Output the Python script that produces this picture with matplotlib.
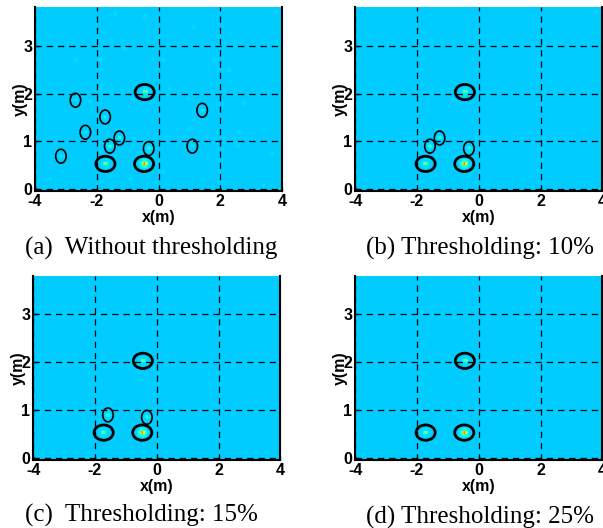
import matplotlib
matplotlib.use("Agg")
import matplotlib.pyplot as plt
import numpy as np
from matplotlib.patches import Ellipse

plt.rcParams["axes.unicode_minus"] = False

# detected targets: position (m) and relative strength
spot_x = [-0.45, -1.72, -0.47, -1.58, -0.32, -1.27, -2.69, -1.73, -2.37, -3.16, 1.09, 1.41]
spot_y = [2.03, 0.53, 0.53, 0.90, 0.85, 1.07, 1.86, 1.51, 1.19, 0.69, 0.90, 1.65]
spot_s = [0.32, 0.30, 1.00, 0.18, 0.17, 0.12, 0.07, 0.07, 0.07, 0.07, 0.06, 0.06]

# faint background returns (only seen without thresholding)
faint_x = [-1.41, -0.47, 1.12, -1.09, -2.67, -1.89, 0.15, 1.77, 2.25, -1.89, 0.34, 0.96,
           -2.22, 2.73, 0.99, 2.57, 2.54, 3.65, -3.51, -0.93, 0.15, 3.38, 3.81]
faint_y = [3.67, 3.60, 3.38, 2.93, 2.70, 2.70, 2.70, 2.70, 2.48, 2.10, 2.10, 1.89,
           1.82, 1.80, 1.28, 1.19, 0.90, 0.74, 0.22, 0.22, 0.37, 0.08, 3.01]
faint_s = 0.04

thresholds = [0.0, 0.10, 0.15, 0.25]
captions = ["(a)  Without thresholding", "(b) Thresholding: 10%",
            "(c)  Thresholding: 15%", "(d) Thresholding: 25%"]

xticks = [-4, -2, 0, 2, 4]
yticks = [0, 1, 2, 3]

bg = 0.325
gx = np.arange(-4.0, 4.08, 0.04) + 0.02
gy = np.arange(-0.04, 3.8, 0.03) + 0.015
X, Y = np.meshgrid(gx, gy)


def make_map(thr):
    z = np.zeros_like(X)
    for x, y, s in zip(spot_x, spot_y, spot_s):
        if s >= thr:
            core = s * np.exp(-((X - x) / 0.05) ** 2 / 2 - ((Y - y) / 0.022) ** 2 / 2)
            halo = 0.2 * s * np.exp(-((X - x) / 0.09) ** 2 / 2 - ((Y - y) / 0.06) ** 2 / 2)
            z = np.maximum(z, np.maximum(core, halo))
    if thr == 0:
        for x, y in zip(faint_x, faint_y):
            z = np.maximum(z, faint_s * np.exp(-((X - x) / 0.05) ** 2 / 2 - ((Y - y) / 0.03) ** 2 / 2))
    return bg + z * (0.9 - bg)


fig = plt.figure(figsize=(6.03, 5.28), dpi=100)
boxes = [(0.058, 0.638), (0.589, 0.638), (0.055, 0.129), (0.589, 0.129)]
cap_pos = [(0.251, 0.518), (0.796, 0.518), (0.234, 0.013), (0.796, 0.008)]

for k in range(4):
    ax = fig.add_axes([boxes[k][0], boxes[k][1], 0.41, 0.348])
    ax.imshow(make_map(thresholds[k]), cmap="jet", vmin=0, vmax=1, origin="lower",
              extent=[-4.0, 4.08, -0.04, 3.8], aspect="auto", interpolation="nearest")
    for x, y, s in zip(spot_x, spot_y, spot_s):
        if s < thresholds[k]:
            continue
        if s >= 0.25:
            e = Ellipse((x, y), 0.62, 0.32, fill=False, ec="black", lw=2.0)
        else:
            e = Ellipse((x, y), 0.34, 0.29, fill=False, ec="black", lw=1.2)
        ax.add_patch(e)
    ax.set_xlim(-4.0, 4.0)
    ax.set_ylim(-0.04, 3.8)
    ax.set_xticks(xticks)
    ax.set_yticks(yticks)
    ax.grid(True, color="black", linestyle=(0, (5, 4)), linewidth=0.9)
    ax.set_axisbelow(False)
    ax.tick_params(direction="in", length=3, width=1, pad=2, labelsize=11.5)
    for lab in ax.get_xticklabels() + ax.get_yticklabels():
        lab.set_fontweight("bold")
        lab.set_family("Liberation Sans")
    for side in ["left", "bottom", "right"]:
        ax.spines[side].set_linewidth(1.5)
    ax.spines["top"].set_visible(False)
    ax.set_xlabel("x(m)", fontsize=11.5, fontweight="bold", family="Liberation Sans", labelpad=1)
    ax.set_ylabel("y(m)", fontsize=11.5, fontweight="bold", family="Liberation Sans", labelpad=-3)
    fig.text(cap_pos[k][0], cap_pos[k][1], captions[k], ha="center", va="baseline",
             family="Liberation Serif", fontsize=18)

plt.savefig("out.png", dpi=100)
